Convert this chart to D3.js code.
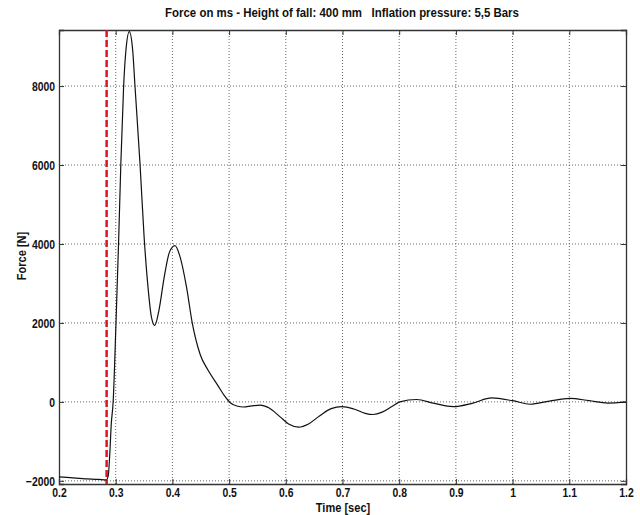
<!DOCTYPE html>
<html>
<head>
<meta charset="utf-8">
<script src="https://cdn.jsdelivr.net/npm/d3@7"></script>
<style>
  body { margin: 0; background: #fff; }
  text { font-family: "Liberation Sans", Arial, sans-serif; font-weight: bold; fill: #111; }
</style>
</head>
<body>
<svg id="chart" width="640" height="515"></svg>
<script>
// time [sec] and force [N]
const time = [0.20, 0.22, 0.25, 0.27, 0.284, 0.287, 0.290, 0.292, 0.2955, 0.3005, 0.305, 0.309, 0.314, 0.318, 0.324,
  0.330, 0.334, 0.343, 0.350, 0.357, 0.363, 0.369, 0.376, 0.386, 0.395, 0.4046, 0.413, 0.425, 0.435, 0.449,
  0.463, 0.480, 0.492, 0.502, 0.515, 0.525, 0.540, 0.555, 0.570, 0.590, 0.605, 0.623, 0.640, 0.660, 0.680,
  0.699, 0.720, 0.740, 0.754, 0.770, 0.790, 0.801, 0.831, 0.860, 0.895, 0.930, 0.963, 1.00, 1.031, 1.065,
  1.101, 1.135, 1.168, 1.20]
const force = [-1900, -1920, -1950, -1965, -1975, -1850, -1200, -600, 0, 2000, 4000, 6000, 8000, 8900, 9380,
  8900, 8000, 6000, 4200, 2900, 2150, 1940, 2300, 3200, 3800, 3960, 3700, 2900, 2000, 1200,
  800, 420, 150, -20, -110, -130, -100, -80, -150, -380, -560, -640, -560, -350, -170,
  -120, -180, -290, -320, -260, -90, 0, 60, -30, -120, -30, 100, 30, -60, 20,
  90, 30, -30, 0]
const impactTime = 0.284

const xTicks = [0.2, 0.3, 0.4, 0.5, 0.6, 0.7, 0.8, 0.9, 1, 1.1, 1.2]
const yTicks = [-2000, 0, 2000, 4000, 6000, 8000]

const title = "Force on ms - Height of fall: 400 mm   Inflation pressure: 5,5 Bars"

const margin = {left: 59, right: 14, top: 30, bottom: 31}
const width = 640, height = 515
const narrow = 0.8  // squeeze glyphs, no narrow font installed

var svg = d3.select("#chart")

var x = d3.scaleLinear().domain([0.2, 1.2]).range([margin.left, width - margin.right])
var y = d3.scaleLinear().domain([-2080, 9420]).range([height - margin.bottom, margin.top])

// dotted grid
svg.append("g")
  .selectAll("line")
  .data(xTicks.slice(1, -1))
  .enter().append("line")
    .attr("x1", d => x(d)).attr("x2", d => x(d))
    .attr("y1", y.range()[1]).attr("y2", y.range()[0])
    .attr("stroke", "#666").attr("stroke-width", 1)
    .attr("stroke-dasharray", "1,2")

svg.append("g")
  .selectAll("line")
  .data(yTicks)
  .enter().append("line")
    .attr("y1", d => y(d)).attr("y2", d => y(d))
    .attr("x1", x.range()[0]).attr("x2", x.range()[1])
    .attr("stroke", "#666").attr("stroke-width", 1)
    .attr("stroke-dasharray", "1,2")

// axes, ticks pointing inward
svg.append("g")
  .attr("transform", `translate(0,${y.range()[0]})`)
  .call(d3.axisBottom(x).tickValues(xTicks).tickSize(-5).tickPadding(4).tickFormat(d3.format("")))
svg.append("g")
  .attr("transform", `translate(0,${y.range()[1]})`)
  .call(d3.axisTop(x).tickValues(xTicks).tickSize(-5).tickFormat(""))
svg.append("g")
  .attr("transform", `translate(${x.range()[0]},0)`)
  .call(d3.axisLeft(y).tickValues(yTicks).tickSize(-5).tickPadding(5).tickFormat(d3.format("d")))
svg.append("g")
  .attr("transform", `translate(${x.range()[1]},0)`)
  .call(d3.axisRight(y).tickValues(yTicks).tickSize(-5).tickFormat(""))

svg.selectAll(".domain").attr("stroke", "#333").attr("stroke-width", 1.3)
svg.selectAll(".tick line").attr("stroke", "#333")
svg.selectAll(".tick text")
  .style("font-size", "13px")
  .attr("fill", "#111")
  .attr("transform", `scale(${narrow},1)`)

// impact marker
svg.append("line")
  .attr("x1", x(impactTime)).attr("x2", x(impactTime))
  .attr("y1", y.range()[1]).attr("y2", y.range()[0])
  .attr("stroke", "#e0141e").attr("stroke-width", 2.5)
  .attr("stroke-dasharray", "7,3")

// force curve
var line = d3.line()
  .x((d, i) => x(time[i]))
  .y(d => y(d))
  .curve(d3.curveMonotoneX)

svg.append("path")
  .datum(force)
  .attr("d", line)
  .attr("fill", "none")
  .attr("stroke", "#111")
  .attr("stroke-width", 1.2)

// labels
svg.append("text")
  .attr("transform", "translate(342,17) scale(0.88,1)")
  .attr("text-anchor", "middle")
  .style("font-size", "13px")
  .style("white-space", "pre")
  .text(title)

svg.append("text")
  .attr("transform", "translate(343,512) scale(0.85,1)")
  .attr("text-anchor", "middle")
  .style("font-size", "13px")
  .text("Time [sec]")

svg.append("text")
  .attr("transform", "translate(26,256) rotate(-90) scale(0.85,1)")
  .attr("text-anchor", "middle")
  .style("font-size", "13px")
  .text("Force [N]")
</script>
</body>
</html>
